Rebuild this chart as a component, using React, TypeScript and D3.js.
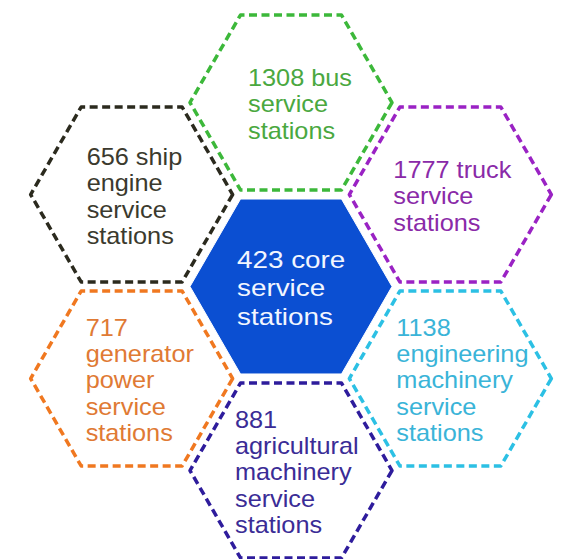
import React, { useMemo } from "react";
import * as d3 from "d3";

// ---- data ----
const stationCounts = [423, 1308, 1777, 1138, 881, 717, 656];
const stationTypes = [
  "core",
  "bus",
  "truck",
  "engineering machinery",
  "agricultural machinery",
  "generator power",
  "ship engine",
];
const labelLines: string[][] = [
  ["423 core", "service", "stations"],
  ["1308 bus", "service", "stations"],
  ["1777 truck", "service", "stations"],
  ["1138", "engineering", "machinery", "service", "stations"],
  ["881", "agricultural", "machinery", "service", "stations"],
  ["717", "generator", "power", "service", "stations"],
  ["656 ship", "engine", "service", "stations"],
];

// ---- styles / layout ----
const strokeColors = ["#0b4fd2", "#3cb83a", "#9a22c4", "#2cc0e4", "#2e1c9c", "#f07820", "#2b2a1e"];
const textColors = ["#f2f6ff", "#4aa83f", "#8a2aa8", "#3ab4d8", "#3a2c96", "#e07a34", "#3b3a2e"];
const textOffsetX = [-54, -43, -57, -54, -56, -46, -45];

const W = 568;
const H = 559;
const R = 101;
const SPACING = 184;
const CX = 291;
const CY = 286.5;
const FONT = "'Liberation Sans', Arial, sans-serif";

export default function App() {
  const hexLine = d3.line<[number, number]>().curve(d3.curveLinearClosed);
  const angleScale = d3.scaleLinear().domain([0, 6]).range([-90, 270]);

  const cells = useMemo(() => {
    return stationCounts.map((count, i) => {
      let cx = CX;
      let cy = CY;
      if (i > 0) {
        const a = (angleScale(i - 1) * Math.PI) / 180;
        cx = CX + SPACING * Math.cos(a);
        cy = CY + SPACING * Math.sin(a);
      }
      const pts: [number, number][] = d3.range(6).map((k) => {
        const t = (k * 60 * Math.PI) / 180;
        return [cx + R * Math.cos(t), cy + R * Math.sin(t)];
      });
      const isCore = i === 0;
      const size = isCore ? 24 : 23;
      const sx = isCore ? 1.16 : 1.1;
      const lh = isCore ? 28.5 : 26.3;
      const lines = labelLines[i];
      const x0 = cx + textOffsetX[i];
      const y0 = cy + 10 - ((lines.length - 1) * lh) / 2;
      return { count, type: stationTypes[i], cx, cy, pts, isCore, size, sx, lh, lines, x0, y0, i };
    });
  }, []);

  return (
    <svg
      width={W}
      height={H}
      style={{ position: "absolute", left: 0, top: 0, background: "#ffffff" }}
    >
      <rect x={0} y={0} width={W} height={H} fill="#ffffff" />
      {cells.map((c) => (
        <g key={c.i}>
          <path
            d={hexLine(c.pts) || ""}
            fill={c.isCore ? strokeColors[0] : "none"}
            stroke={c.isCore ? "#ffffff" : strokeColors[c.i]}
            strokeWidth={c.isCore ? 1 : 3.5}
            strokeDasharray={c.isCore ? undefined : "8 4.5"}
            strokeLinejoin="round"
          />
          <g transform={`translate(${c.x0},${c.y0}) scale(${c.sx},1)`}>
            <text fontFamily={FONT} fontSize={c.size} fill={textColors[c.i]}>
              {c.lines.map((l, k) => (
                <tspan key={k} x={0} y={k * c.lh}>
                  {l}
                </tspan>
              ))}
            </text>
          </g>
        </g>
      ))}
    </svg>
  );
}
